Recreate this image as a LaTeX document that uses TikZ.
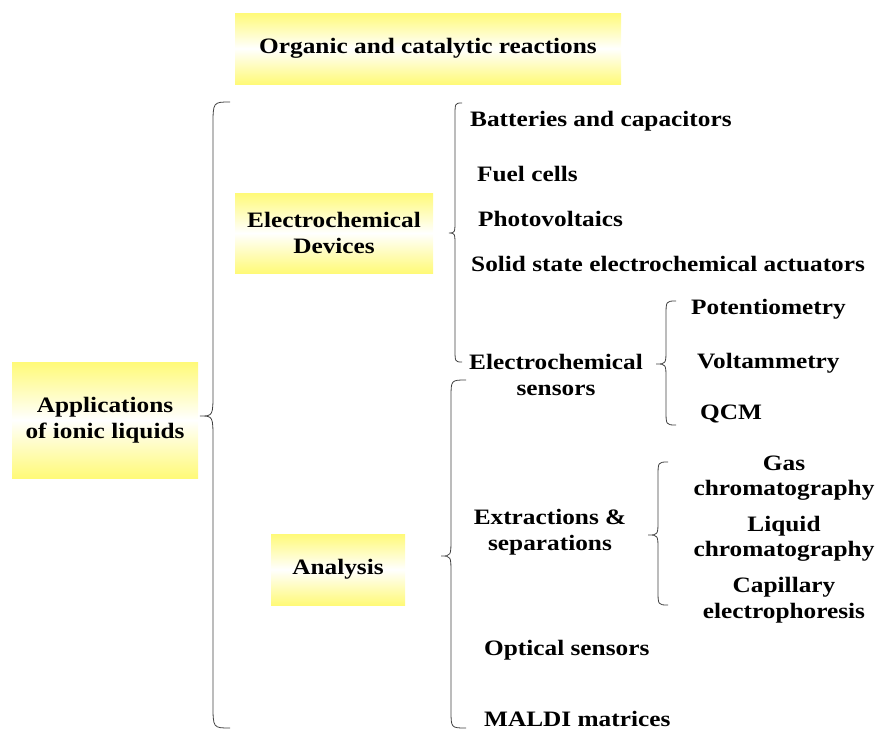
\documentclass[tikz,border=0pt]{standalone}
\usepackage{fontspec}
\setmainfont{Liberation Serif}[FakeStretch=1.15]
\definecolor{boxyellow}{RGB}{255,250,120}
\newcommand\mybrace[7]{% xe xl xt y1 ym y2 r
\draw[br] (#1,#4) .. controls (#2,#4) .. (#2,{#4+#7}) -- (#2,{#5-#7}) .. controls (#2,#5) .. (#3,#5) .. controls (#2,#5) .. (#2,{#5+#7}) -- (#2,{#6-#7}) .. controls (#2,#6) .. (#1,#6);}
\begin{document}
\begin{tikzpicture}[x=1pt,y=-1pt,
 txt/.style={font=\fontsize{22}{25.5}\selectfont\bfseries, inner sep=0pt, align=center},
 ybox/.style={shading=axis, top color=boxyellow, bottom color=boxyellow, middle color=white, inner sep=0pt},
 br/.style={draw=black!75, line width=0.8pt}]
\useasboundingbox (0,0) rectangle (876,731);
% boxes
\node[ybox, txt, minimum width=386pt, minimum height=71pt] (org) at (428,48.5) {Organic and catalytic reactions};
\node[ybox, txt, minimum width=186pt, minimum height=116pt] (appl) at (105,420) {Applications\\of ionic liquids};
\node[ybox, txt, minimum width=198pt, minimum height=80pt] (ed) at (334,233) {Electrochemical\\Devices};
\node[ybox, txt, minimum width=134pt, minimum height=71pt] (ana) at (338,569.5) {Analysis};
% braces
\mybrace{230}{213}{200}{102}{416}{728}{24}
\mybrace{462}{455}{449}{103}{233}{362}{14}
\mybrace{466}{451}{441}{380}{556}{728}{18}
\mybrace{676}{666}{656}{301}{364}{425}{15}
\mybrace{668}{658}{648}{462}{535}{605}{15}
% texts
\node[txt, anchor=west] (bat) at (470,121) {Batteries and capacitors};
\node[txt, anchor=west] (fuel) at (477,174) {Fuel cells};
\node[txt, anchor=west] (photo) at (478,219) {Photovoltaics};
\node[txt, anchor=west] (solid) at (471,264) {Solid state electrochemical actuators};
\node[txt] (sens) at (556,375) {Electrochemical\\sensors};
\node[txt, anchor=west] (pot) at (691,309) {Potentiometry};
\node[txt, anchor=west] (volt) at (697,363) {Voltammetry};
\node[txt, anchor=west] (qcm) at (700,414) {QCM};
\node[txt] (extr) at (550,532) {Extractions \&\\separations};
\node[txt] (gas) at (784,478) {Gas\\chromatography};
\node[txt] (liq) at (784,539) {Liquid\\chromatography};
\node[txt] (cap) at (784,600) {Capillary\\electrophoresis};
\node[txt, anchor=west] (opt) at (484,650) {Optical sensors};
\node[txt, anchor=west] (maldi) at (484,719) {MALDI matrices};
\end{tikzpicture}
\end{document}
